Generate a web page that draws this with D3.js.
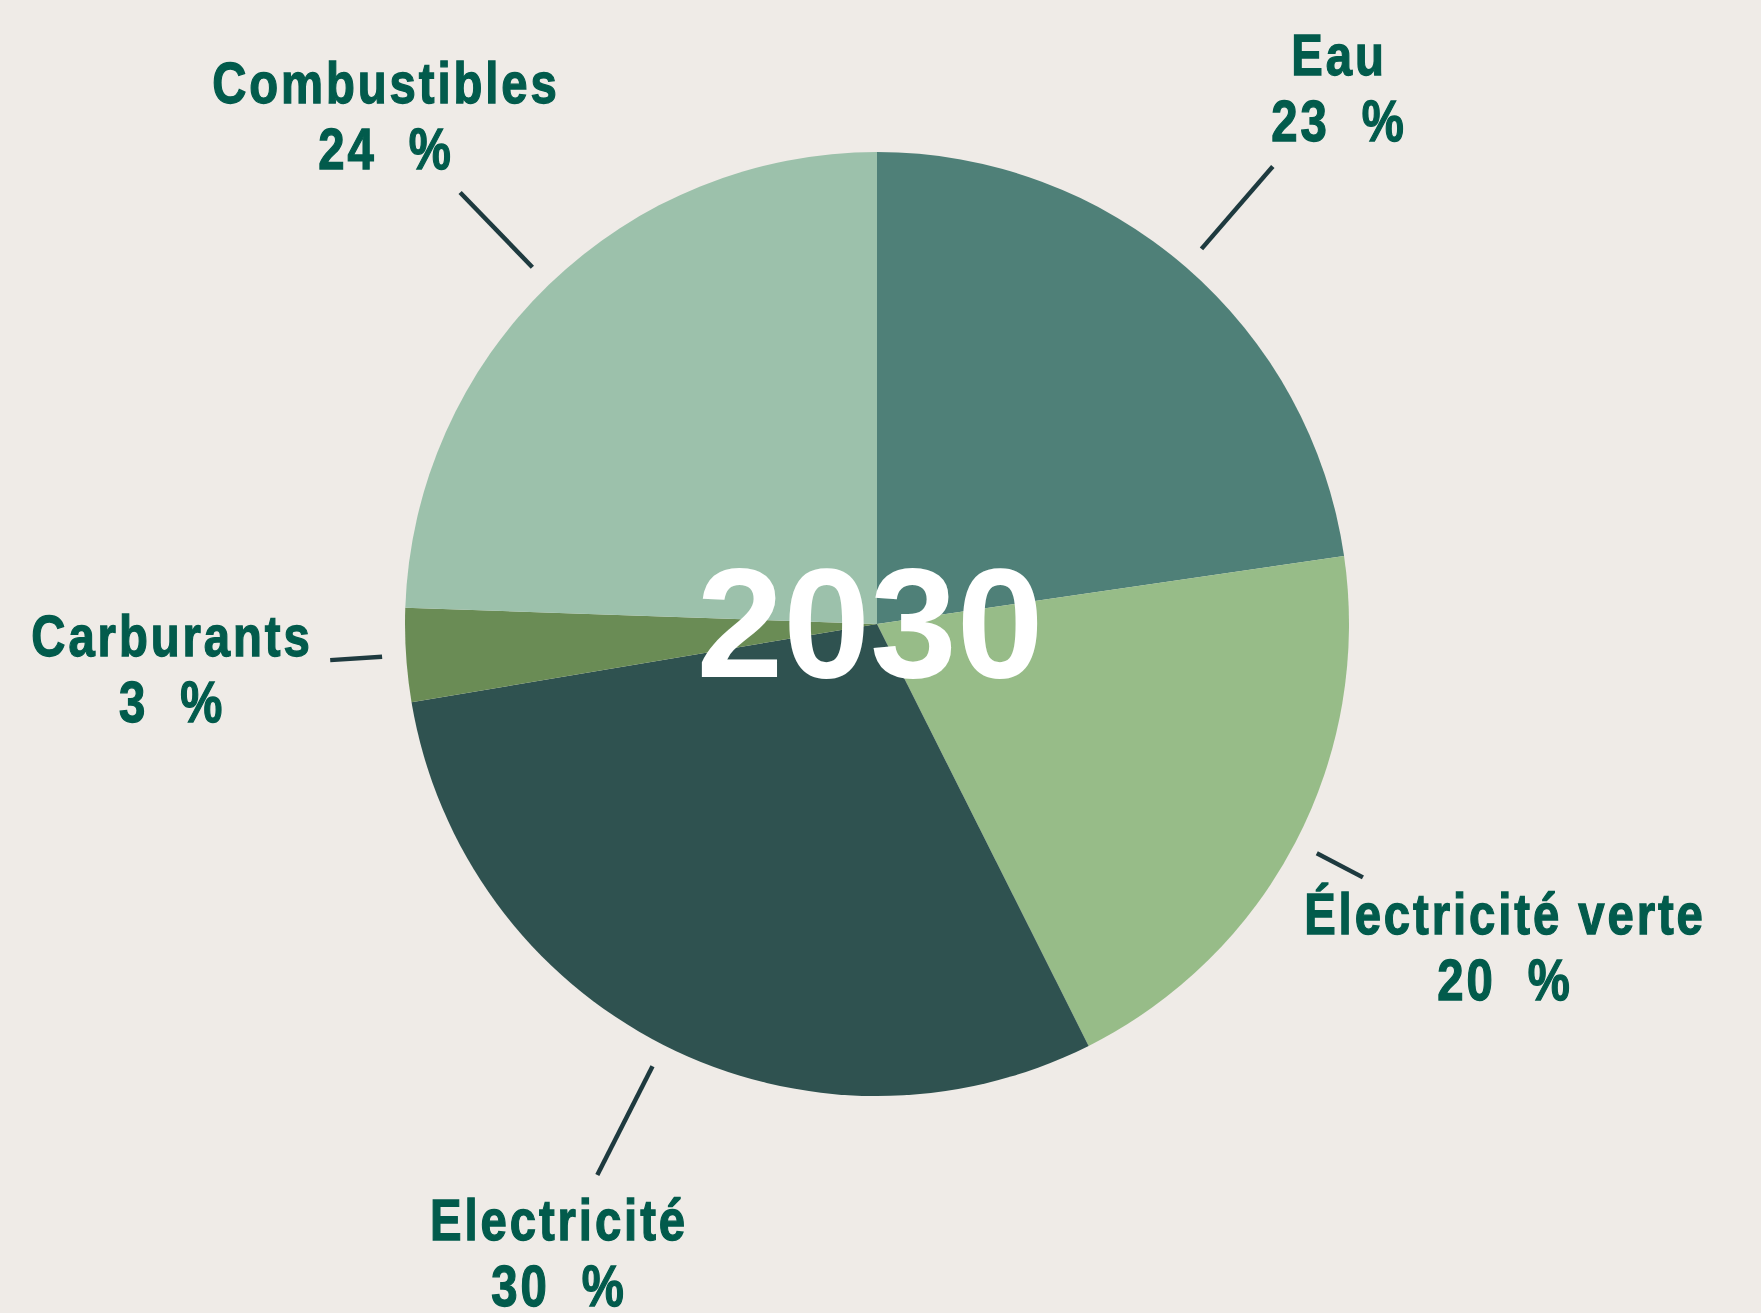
<!DOCTYPE html>
<html>
<head>
<meta charset="utf-8">
<script src="https://cdn.jsdelivr.net/npm/d3@7"></script>
<style>
  html, body { margin: 0; padding: 0; background: #efebe7; }
  .lbl { font-family: "Liberation Sans", Arial, sans-serif; font-weight: bold; fill: #025b4c; stroke: #025b4c; stroke-width: 1.3; }
</style>
</head>
<body>
<script>
// parts of the 2030 mix, clockwise from 12 o'clock
var categories = ["Eau", "Électricité verte", "Electricité", "Carburants", "Combustibles"];
var values = [22.7, 19.9, 29.75, 3.2, 24.45];
var pctLabels = ["23\u00a0\u00a0%", "20\u00a0\u00a0%", "30\u00a0\u00a0%", "3\u00a0\u00a0%", "24\u00a0\u00a0%"];
var colors = ["#4f8078", "#97bc88", "#2f5250", "#6a8c55", "#9cc1ab"];

// layout: leader line outer radius and label anchor (centre x, first baseline)
var leaderEnd = [605, 548, 618, 548, 600];
var labelPos = [[1339, 75], [1505, 934], [559, 1240], [172, 656], [386, 103]];

var width = 1761;
var height = 1313;
var cx = 877, cy = 624, r = 472;
var squeeze = 0.83; // condensed look for the labels

var svg = d3.select("body").append("svg")
	.attr("width", width)
	.attr("height", height);

svg.append("rect")
	.attr("width", width)
	.attr("height", height)
	.attr("fill", "#efebe7");

var pie = d3.pie().sort(null).value(function(d){ return d; });
var arcs = pie(values);

var arc = d3.arc().innerRadius(0).outerRadius(r);

var g = svg.append("g")
	.attr("transform", "translate(" + cx + "," + cy + ")");

g.selectAll("path")
	.data(arcs)
  .enter().append("path")
	.attr("d", arc)
	.attr("fill", function(d, i){ return colors[i]; });

// leader lines, along the middle angle of each slice
var mid = function(d){ return (d.startAngle + d.endAngle) / 2; };
g.selectAll("line")
	.data(arcs)
  .enter().append("line")
	.attr("x1", function(d){ return Math.sin(mid(d)) * (r + 24); })
	.attr("y1", function(d){ return -Math.cos(mid(d)) * (r + 24); })
	.attr("x2", function(d, i){ return Math.sin(mid(d)) * leaderEnd[i]; })
	.attr("y2", function(d, i){ return -Math.cos(mid(d)) * leaderEnd[i]; })
	.attr("stroke", "#1e3a3f")
	.attr("stroke-width", 4.5);

// centre year
svg.append("text")
	.attr("x", 870)
	.attr("y", 677)
	.attr("text-anchor", "middle")
	.attr("font-family", "'Liberation Sans', Arial, sans-serif")
	.attr("font-weight", "bold")
	.attr("font-size", 156)
	.attr("fill", "#ffffff")
	.text("2030");

// labels
var lab = svg.selectAll("text.lbl")
	.data(categories)
  .enter().append("text")
	.attr("class", "lbl")
	.attr("text-anchor", "middle")
	.attr("font-size", 57)
	.attr("letter-spacing", 3.5)
	.attr("transform", function(d, i){
		return "translate(" + labelPos[i][0] + "," + labelPos[i][1] + ") scale(" + squeeze + ",1)";
	});

lab.append("tspan")
	.attr("x", 0)
	.attr("y", 0)
	.text(function(d){ return d; });

lab.append("tspan")
	.attr("x", 0)
	.attr("y", 66)
	.text(function(d, i){ return pctLabels[i]; });
</script>
</body>
</html>
